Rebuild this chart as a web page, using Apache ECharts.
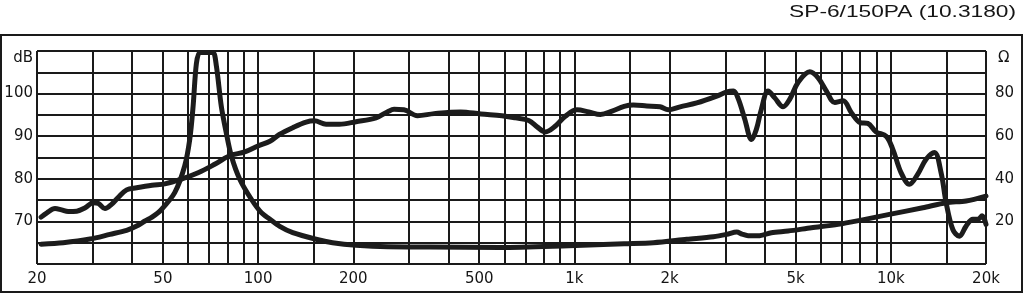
<!DOCTYPE html>
<html>
<head>
<meta charset="utf-8">
<script src="https://cdn.jsdelivr.net/npm/echarts@6/dist/echarts.min.js"></script>
<style>
html,body{margin:0;padding:0;background:#fff;}
#c{width:1024px;height:293px;}
</style>
</head>
<body>
<div id="c"></div>
<script>
// ---- data ----
const title = 'SP-6/150PA (10.3180)';
const splFreq = [20.6,21.5,22.8,23.9,25.1,26.7,28.4,30.1,31.3,32.8,34.4,36.1,38.4,41.3,46.2,50.7,57.2,64.6,72.9,81.3,90.7,99.9,109,116.7,128.7,141.8,150.6,164,180.6,204,236,257.6,269,289,319,360,437,506,590,651,717,762,809,871,936,1019,1110,1208,1315,1436,1536,1693,1865,1981,2158,2436,2818,3031,3181,3298,3455,3630,3759,3898,4094,4298,4566,4795,5092,5546,5892,6260,6653,7068,7508,8000,8460,8988,9670,10152,10784,11452,12174,12932,13738,14426,14962,15710,16478,17302,18168,18842,19442,20000];
const splDb = [71.0,72.0,73.0,72.7,72.3,72.4,73.2,74.4,74.2,73.0,74.0,75.6,77.4,77.9,78.5,78.8,79.9,81.4,83.4,85.4,86.3,87.7,88.8,90.4,92.0,93.3,93.6,92.8,92.8,93.4,94.3,95.8,96.3,96.2,94.8,95.3,95.7,95.2,94.8,94.3,93.7,92.2,91.0,92.4,94.7,96.2,95.7,95.1,95.9,97.0,97.3,97.1,96.9,96.2,96.9,97.8,99.4,100.4,100.6,98.7,94.0,89.2,91.6,96.3,100.6,99.0,96.9,98.7,102.6,105.1,103.7,100.6,97.9,98.3,95.5,93.2,93.0,91.0,90.0,86.9,81.4,78.7,81.1,84.6,86.2,81.4,74.4,68.1,66.5,68.9,70.5,70.5,71.3,69.3];
const impFreq = [20.6,24.2,29.4,34.0,38.4,41.3,43.9,46.2,49.4,54.5,58.6,60.8,62.3,63.8,65.4,68.4,72.0,73.8,76.5,79.3,82.3,87.5,95.2,102.4,109,116.7,128.7,152.5,172,204,257.6,350,582,959,1436,1776,2266,2750,3031,3260,3388,3540,3808,4194,4736,5610,6814,8000,9900,12626,14962,17302,20000];
const impOhm = [9.3,10.0,11.7,13.9,15.8,17.8,20.2,22.0,25.5,33.5,46,58.5,74,94,99.3,99.3,99.3,93,74,61.6,50.7,39.8,30.4,24.1,21,17.8,14.7,11.6,10.0,8.8,8.1,8.0,7.8,8.6,9.5,10.0,11.6,12.8,13.9,15.0,14.0,13.3,13.3,14.7,15.5,17.0,18.6,20.5,23.3,26.4,28.8,29.6,31.9];
const gridFreqs = [20,30,40,50,60,70,80,90,100,150,200,300,400,500,600,700,800,900,1000,1500,2000,3000,4000,5000,6000,7000,8000,9000,10000,15000,20000];
const tickFreqs = [20,50,100,200,500,1000,2000,5000,10000,20000];
const tickTexts = ['20','50','100','200','500','1k','2k','5k','10k','20k'];
const dbLabels = [70,80,90,100];
const ohmLabels = [20,40,60,80];

const splData = splFreq.map((f,i)=>[f,splDb[i]]);
const impData = impFreq.map((f,i)=>[f,impOhm[i]]);

const markData = gridFreqs.map(f=>{
  const k = tickFreqs.indexOf(f);
  const item = {xAxis:f};
  if (k>=0) item.label = {show:true, formatter: tickTexts[k]};
  else item.label = {show:false};
  return item;
});

const FONT = 'DejaVu Sans';
const TXT = '#151515';
const chart = echarts.init(document.getElementById('c'), null, {renderer:'canvas'});
chart.setOption({
  animation:false,
  backgroundColor:'#fff',
  graphic:[
    {type:'rect', shape:{x:1, y:35, width:1021, height:257}, style:{fill:null, stroke:'#1a1a1a', lineWidth:2}, z:0},
    {type:'text', x:1016, y:5, scaleX:1.42, style:{text:title, align:'right', verticalAlign:'top', fontFamily:'Liberation Sans', fontSize:16, fill:TXT}, z:10}
  ],
  grid:{left:37, right:38, top:51, bottom:29, containLabel:false},
  xAxis:{type:'log', logBase:10, min:20, max:20000, axisLine:{show:false}, axisTick:{show:false}, axisLabel:{show:false}, splitLine:{show:false}, minorSplitLine:{show:false}},
  yAxis:[
    {type:'value', min:60, max:110, interval:5, position:'left',
     axisLine:{show:false}, axisTick:{show:false},
     splitLine:{show:true, lineStyle:{color:'#1a1a1a', width:2}},
     axisLabel:{margin:4, fontFamily:FONT, fontSize:15, color:TXT, showMinLabel:true, showMaxLabel:true,
       formatter:v=> v===110 ? '{u|dB}' : (dbLabels.indexOf(v)>=0 ? String(v) : ''),
       rich:{u:{fontFamily:FONT, fontSize:15, color:TXT, padding:[14,0,0,0]}}}},
    {type:'value', min:0, max:100, interval:10, position:'right',
     axisLine:{show:false}, axisTick:{show:false}, splitLine:{show:false},
     axisLabel:{margin:9, fontFamily:FONT, fontSize:15, color:TXT, showMaxLabel:true,
       formatter:v=> v===100 ? '{u|Ω}' : (ohmLabels.indexOf(v)>=0 ? String(v) : ''),
       rich:{u:{fontFamily:FONT, fontSize:15, color:TXT, padding:[14,0,0,3]}}}}
  ],
  series:[
    {type:'line', name:'grid', data:[], z:1, silent:true,
     markLine:{silent:true, symbol:['none','none'], animation:false,
       lineStyle:{color:'#1a1a1a', width:2, type:'solid'},
       label:{position:'start', distance:8, fontFamily:FONT, fontSize:15, color:TXT},
       emphasis:{disabled:true},
       data:markData}},
    {type:'line', name:'SPL', yAxisIndex:0, data:splData, showSymbol:false, smooth:0.35, z:5,
     lineStyle:{color:'#1c1c1c', width:5, cap:'round', join:'round'}},
    {type:'line', name:'Impedance', yAxisIndex:1, data:impData, showSymbol:false, smooth:0.3, z:5,
     lineStyle:{color:'#1c1c1c', width:5, cap:'round', join:'round'}}
  ]
});
</script>
</body>
</html>
